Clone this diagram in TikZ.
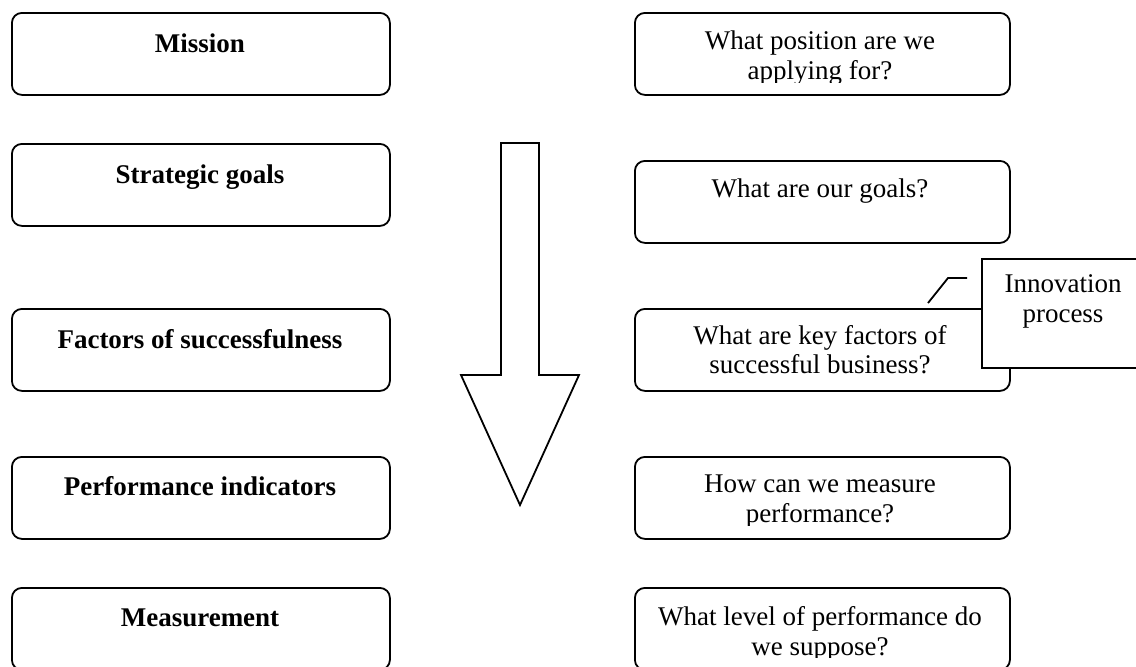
\documentclass[tikz,border=0pt]{standalone}
\usepackage{fontspec}
\setmainfont{Liberation Serif}
\begin{document}
\begin{tikzpicture}[x=0.5pt,y=-0.5pt,
  box/.style={draw, line width=0.9pt, rounded corners=5pt, minimum width=189pt, minimum height=41pt, inner sep=0pt, anchor=north west},
  rbox/.style={box, minimum width=187.5pt},
  lbl/.style={font=\fontsize{13.5pt}{15pt}\selectfont\bfseries, inner sep=0pt, anchor=base},
  qtxt/.style={font=\fontsize{13.5pt}{15pt}\selectfont, inner sep=0pt, anchor=base},
  ln/.style={line width=0.9pt}]
\useasboundingbox (0,0) rectangle (1136,666);
% left column
\node[box] (L1) at (11,12) {};
\node[box] (L2) at (11,143) {};
\node[box] (L3) at (11,308) {};
\node[box] (L4) at (11,456) {};
\node[box] (L5) at (11,587) {};
\node[lbl] (l1) at (200,52) {Mission};
\node[lbl] (l2) at (200,183) {Strategic goals};
\node[lbl] (l3) at (200,348) {Factors of successfulness};
\node[lbl] (l4) at (200,495) {Performance indicators};
\node[lbl] (l5) at (200,626) {Measurement};
% right column
\node[rbox] (R1) at (634,12) {};
\node[rbox] (R2) at (634,160) {};
\node[rbox] (R3) at (634,308) {};
\node[rbox] (R4) at (634,456) {};
\node[rbox] (R5) at (634,587) {};
\begin{scope}
\clip (634,12) rectangle (1009,82);
\node[qtxt] (r1a) at (820,49) {What position are we};
\node[qtxt] (r1b) at (820,79) {applying for?};
\end{scope}
\node[qtxt] (r2a) at (820,197) {What are our goals?};
\node[qtxt] (r3a) at (820,344) {What are key factors of};
\node[qtxt] (r3b) at (820,373) {successful business?};
\begin{scope}
\clip (634,456) rectangle (1009,525);
\node[qtxt] (r4a) at (820,492) {How can we measure};
\node[qtxt] (r4b) at (820,522) {performance?};
\end{scope}
\begin{scope}
\clip (634,587) rectangle (1009,657);
\node[qtxt] (r5a) at (820,625) {What level of performance do};
\node[qtxt] (r5b) at (820,655) {we suppose?};
\end{scope}
% big down arrow
\draw[ln, fill=white] (501,143) -- (539,143) -- (539,375) -- (579,375) -- (520,505) -- (461,375) -- (501,375) -- cycle;
% callout
\node[draw, ln, fill=white, minimum width=82pt, minimum height=54.5pt, inner sep=0pt, anchor=north west] (C) at (981,258) {};
\node[qtxt] (c1t) at (1063,292) {Innovation};
\node[qtxt] (c2t) at (1063,322) {process};
\coordinate (k1) at (967,278);
\coordinate (k2) at (948,278);
\coordinate (k3) at (928,303);
\draw[ln] (k1) -- (k2) -- (k3);
\end{tikzpicture}
\end{document}
